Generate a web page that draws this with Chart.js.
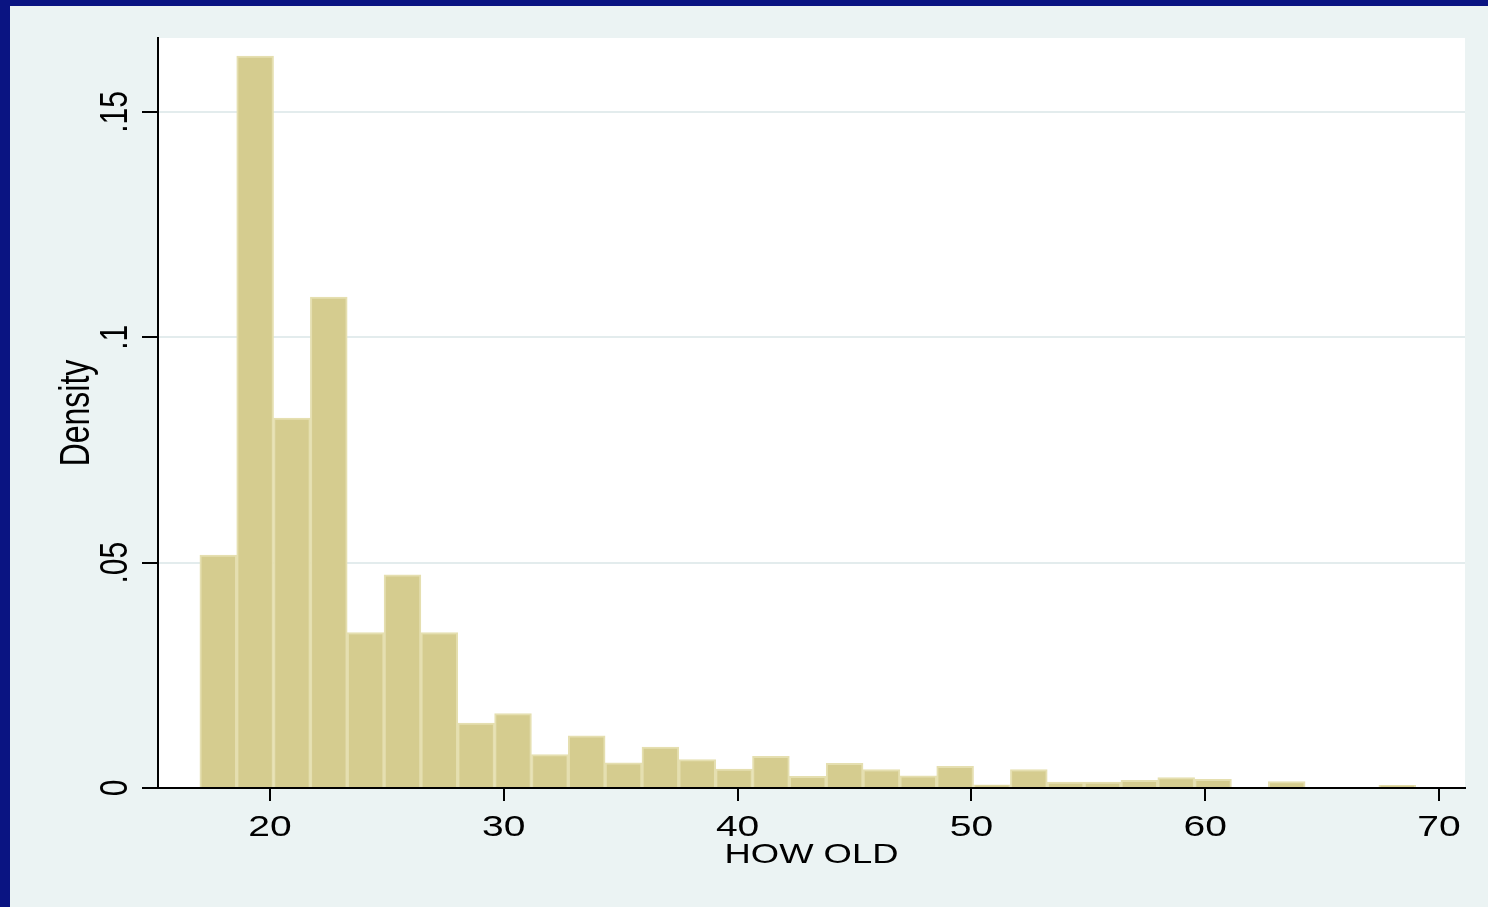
<!DOCTYPE html>
<html><head><meta charset="utf-8">
<script src="https://cdn.jsdelivr.net/npm/chart.js@4.4.0/dist/chart.umd.min.js"></script>
<style>html,body{margin:0;padding:0;overflow:hidden;background:#ebf3f3}
#wrap{position:absolute;left:0;top:0;width:1488px;height:907px}</style></head>
<body><div id="wrap"><canvas id="c"></canvas></div>
<script>
// bin centres (HOW OLD) and histogram density
const binCenters = [17.788, 19.364, 20.939, 22.515, 24.091, 25.667, 27.242, 28.818, 30.394, 31.970,
  33.545, 35.121, 36.697, 38.273, 39.848, 41.424, 43.000, 44.576, 46.152, 47.727,
  49.303, 50.879, 52.455, 54.030, 55.606, 57.182, 58.758, 60.333, 61.909, 63.485,
  65.061, 66.636, 68.212];
const density = [0.0517, 0.1624, 0.0821, 0.1089, 0.0345, 0.0473, 0.0345, 0.0144, 0.0165, 0.0074,
  0.0116, 0.0056, 0.0091, 0.0063, 0.0042, 0.0070, 0.0026, 0.0055, 0.0041, 0.0027,
  0.0048, 0.0007, 0.0041, 0.0013, 0.0013, 0.0017, 0.0023, 0.0019, 0, 0.0014,
  0, 0, 0.0006];
const xTicks = [20, 30, 40, 50, 60, 70];
const xTickLabels = ['20', '30', '40', '50', '60', '70'];
const yTicks = [0, 0.05, 0.1, 0.15];
const yTickLabels = ['0', '.05', '.1', '.15'];
const xTitle = 'HOW OLD';
const yTitle = 'Density';

const FONT = '"Liberation Sans", Arial, Helvetica, sans-serif';

const bgPlugin = {
  id: 'bg',
  beforeDraw(chart) {
    const ctx = chart.ctx, ca = chart.chartArea;
    ctx.save();
    ctx.fillStyle = '#ebf3f3';
    ctx.fillRect(0, 0, chart.width, chart.height);
    ctx.fillStyle = '#0a1482';
    ctx.fillRect(0, 0, chart.width, 6);
    ctx.fillRect(0, 0, 10, chart.height);
    ctx.fillStyle = '#ffffff';
    ctx.fillRect(ca.left, ca.top, ca.right - ca.left, ca.bottom - ca.top);
    ctx.restore();
  }
};

const textPlugin = {
  id: 'txt',
  afterDraw(chart) {
    const ctx = chart.ctx, xs = chart.scales.x, ys = chart.scales.y, ca = chart.chartArea;
    function hText(str, x, y, size, sx) {
      ctx.save(); ctx.translate(x, y); ctx.scale(sx, 1);
      ctx.font = size + 'px ' + FONT; ctx.fillStyle = '#000';
      ctx.textAlign = 'center'; ctx.textBaseline = 'alphabetic';
      ctx.fillText(str, 0, 0); ctx.restore();
    }
    function vText(str, x, y, size, sx) {
      ctx.save(); ctx.translate(x, y); ctx.scale(sx, 1); ctx.rotate(-Math.PI / 2);
      ctx.font = size + 'px ' + FONT; ctx.fillStyle = '#000';
      ctx.textAlign = 'center'; ctx.textBaseline = 'alphabetic';
      ctx.fillText(str, 0, 0); ctx.restore();
    }
    xTicks.forEach((v, i) => hText(xTickLabels[i], xs.getPixelForValue(v), ca.bottom + 48, 30, 1.3));
    yTicks.forEach((v, i) => vText(yTickLabels[i], ca.left - 31, ys.getPixelForValue(v), 30, 1.3));
    hText(xTitle, (ca.left + ca.right) / 2, ca.bottom + 75, 28, 1.3);
    vText(yTitle, ca.left - 69, (ca.top + ca.bottom) / 2, 32, 1.33);
  }
};

new Chart(document.getElementById('c'), {
  type: 'bar',
  data: {
    datasets: [{
      data: binCenters.map((x, i) => ({ x: x, y: density[i] })),
      backgroundColor: '#d5cc8f',
      borderColor: '#e5dfb0',
      borderWidth: 2,
      barPercentage: 1,
      categoryPercentage: 1
    }]
  },
  options: {
    responsive: true,
    maintainAspectRatio: false,
    animation: false,
    layout: { padding: { top: 38, right: 23, left: 0, bottom: 0 } },
    plugins: { legend: { display: false }, tooltip: { enabled: false } },
    scales: {
      x: {
        type: 'linear', min: 15.21, max: 71.11, offset: false,
        afterBuildTicks: s => { s.ticks = xTicks.map(v => ({ value: v })); },
        afterFit: s => { s.height = 119; },
        ticks: { display: false },
        grid: { offset: false, drawOnChartArea: false, drawTicks: true, tickLength: 13,
                tickColor: '#000', tickWidth: 2, color: '#000', lineWidth: 2 },
        border: { display: true, color: '#000', width: 2 }
      },
      y: {
        type: 'linear', min: 0, max: 0.1664,
        afterBuildTicks: s => { s.ticks = yTicks.map(v => ({ value: v })); },
        afterFit: s => { s.width = 158; },
        ticks: { display: false },
        grid: { color: c => (c.tick && c.tick.value === 0) ? 'rgba(0,0,0,0)' : '#e3eced',
                lineWidth: 2, drawTicks: true, tickLength: 16, tickColor: '#000', tickWidth: 2 },
        border: { display: true, color: '#000', width: 2 }
      }
    }
  },
  plugins: [bgPlugin, textPlugin]
});
</script>
</body></html>
